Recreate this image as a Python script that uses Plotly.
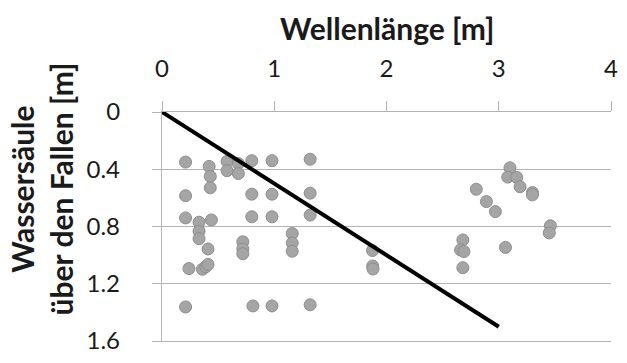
import plotly.graph_objects as go

# Scatter data (Wellenlänge [m], Wassersäule über den Fallen [m])
wave_len = [0.21, 0.42, 0.58, 0.68, 0.58, 0.68, 0.80, 0.98, 1.32,
            0.43, 0.43, 0.21, 0.80, 0.98, 1.32,
            0.21, 0.33, 0.44, 0.80, 0.98, 1.32,
            0.33, 0.33, 0.41, 0.72, 0.72, 0.72,
            1.16, 1.16, 1.16,
            0.24, 0.36, 0.39, 0.41,
            0.21, 0.81, 0.98, 1.32,
            1.875, 1.877, 1.88,
            2.68, 2.66, 2.69, 2.68,
            2.80, 2.89, 2.97, 3.06,
            3.10, 3.08, 3.16, 3.19, 3.30, 3.30, 3.46, 3.45]
water_col = [0.35, 0.38, 0.345, 0.36, 0.41, 0.43, 0.34, 0.34, 0.33,
             0.45, 0.53, 0.585, 0.574, 0.574, 0.567,
             0.74, 0.77, 0.754, 0.732, 0.732, 0.72,
             0.833, 0.885, 0.957, 0.907, 0.957, 0.99,
             0.849, 0.916, 0.973,
             1.094, 1.099, 1.081, 1.065,
             1.362, 1.355, 1.355, 1.347,
             0.968, 1.076, 1.097,
             0.894, 0.964, 0.975, 1.088,
             0.54, 0.626, 0.696, 0.946,
             0.39, 0.455, 0.457, 0.522, 0.563, 0.579, 0.795, 0.845]

# Trend line
line_x = [0, 3]
line_y = [0, 1.5]

x_ticks = [0, 1, 2, 3, 4]
y_ticks = [0, 0.4, 0.8, 1.2, 1.6]
y_tick_text = ["0", "0.4", "0.8", "1.2", "1.6"]

FONT = "Lato"
TXT = "#1a1a1a"
GRID = "#b3b3b3"

fig = go.Figure()
fig.add_trace(go.Scatter(
    x=wave_len, y=water_col, mode="markers",
    marker=dict(size=12, color="#a5a5a5", line=dict(color="#8e8e8e", width=1)),
    showlegend=False, hoverinfo="skip"))
fig.add_trace(go.Scatter(
    x=line_x, y=line_y, mode="lines",
    line=dict(color="black", width=4),
    showlegend=False, hoverinfo="skip"))

fig.update_layout(
    width=627, height=363,
    margin=dict(l=162, r=9, t=112, b=14),
    paper_bgcolor="white", plot_bgcolor="white",
    font=dict(family=FONT, size=24, color=TXT),
    xaxis=dict(
        side="top", range=[0, 4], tickvals=x_ticks,
        showgrid=False, zeroline=False,
        showline=True, linecolor=GRID, linewidth=1.3, mirror=True,
        ticks="outside", ticklen=10, tickcolor=GRID, tickwidth=1.3,
        ticklabelstandoff=14,
        tickfont=dict(family=FONT, size=24, color=TXT),
    ),
    yaxis=dict(
        range=[1.6, 0], tickvals=y_ticks, ticktext=y_tick_text,
        showgrid=True, gridcolor=GRID, gridwidth=1.3,
        zeroline=False,
        showline=True, linecolor=GRID, linewidth=1.3,
        ticks="outside", ticklen=9, tickcolor=GRID, tickwidth=1.3,
        ticklabelstandoff=27,
        tickfont=dict(family=FONT, size=24, color=TXT),
    ),
)

fig.add_annotation(
    text="<b>Wellenlänge [m]</b>", xref="paper", yref="paper",
    x=0.5, y=1, yshift=84, xanchor="center", yanchor="middle",
    showarrow=False, font=dict(family=FONT, size=30, color=TXT))
fig.add_annotation(
    text="<b>Wassersäule<br>über den Fallen [m]</b>", xref="paper", yref="paper",
    x=0, xshift=-121, y=0.662, xanchor="center", yanchor="middle",
    textangle=-90, showarrow=False,
    font=dict(family=FONT, size=30, color=TXT))

fig.write_html("out.html")
